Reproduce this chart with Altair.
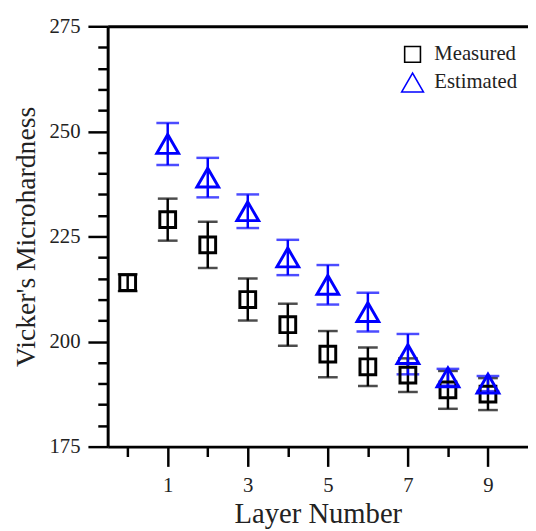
import altair as alt
import pandas as pd

# ---- data ----
layers_m = [0, 1, 2, 3, 4, 5, 6, 7, 8, 9]
measured = [214.0, 229.0, 223.0, 210.0, 204.0, 197.0, 194.0, 192.0, 188.5, 187.5]
measured_err = [2.0, 5.0, 5.5, 5.0, 5.0, 5.5, 4.6, 4.0, 4.5, 3.8]

layers_e = [1, 2, 3, 4, 5, 6, 7, 8, 9]
estimated = [247.0, 239.0, 231.0, 220.0, 213.5, 207.0, 197.0, 191.5, 190.0]
estimated_err = [5.0, 4.7, 4.0, 4.2, 4.7, 4.6, 4.8, 2.0, 1.8]

series_names = ["Measured", "Estimated"]
series_colors = ["#000000", "#0000ff"]
series_shapes = ["square", "triangle-up"]
series_sizes = [256, 484]

y_major = [175, 200, 225, 250, 275]
y_minor = [180, 185, 190, 195, 205, 210, 215, 220, 230, 235, 240, 245, 255, 260, 265, 270]
x_major = [1, 3, 5, 7, 9]
x_minor = [0, 2, 4, 6, 8]

FONT = "Liberation Serif"
TXT = "#222222"

df_m = pd.DataFrame({"layer": layers_m, "value": measured,
                     "lo": [v - e for v, e in zip(measured, measured_err)],
                     "hi": [v + e for v, e in zip(measured, measured_err)],
                     "series": series_names[0]})
df_e = pd.DataFrame({"layer": layers_e, "value": estimated,
                     "lo": [v - e for v, e in zip(estimated, estimated_err)],
                     "hi": [v + e for v, e in zip(estimated, estimated_err)],
                     "series": series_names[1]})
df = pd.concat([df_m, df_e], ignore_index=True)

xscale = alt.Scale(domain=[-0.5, 10], nice=False, zero=False)
yscale = alt.Scale(domain=[175, 275], nice=False, zero=False)

x_major_axis = alt.Axis(values=x_major, title="Layer Number", orient="bottom",
                        tickSize=20, tickWidth=2.5, tickColor="black",
                        domainColor="black", domainWidth=3, grid=False,
                        labelFont=FONT, labelFontSize=21, labelColor=TXT, labelPadding=8,
                        titleFont=FONT, titleFontSize=29, titleFontWeight="normal",
                        titleColor=TXT, titlePadding=5, format="d")
y_major_axis = alt.Axis(values=y_major, title="Vicker's Microhardness", orient="left",
                        tickSize=20, tickWidth=2.5, tickColor="black",
                        domainColor="black", domainWidth=3, grid=False,
                        labelFont=FONT, labelFontSize=21, labelColor=TXT, labelPadding=8,
                        titleFont=FONT, titleFontSize=28, titleFontWeight="normal",
                        titleColor=TXT, titlePadding=9, format="d")
x_minor_axis = alt.Axis(values=x_minor, title="", orient="bottom", tickSize=10,
                        tickWidth=2.5, tickColor="black", labels=False, domain=False,
                        grid=False)
y_minor_axis = alt.Axis(values=y_minor, title="", orient="left", tickSize=10,
                        tickWidth=2.5, tickColor="black", labels=False, domain=False,
                        grid=False)
x_top_axis = alt.Axis(title="", orient="top", ticks=False, labels=False,
                      domain=True, domainColor="black", domainWidth=3, grid=False)

base = alt.Chart(df)

layers = []
# error bars per series
for name, col, cap in zip(series_names, series_colors, [20, 23]):
    sub = base.transform_filter(alt.datum.series == name)
    first = name == series_names[0]
    layers.append(sub.mark_rule(strokeWidth=2.5, color=col).encode(
        x=alt.X("layer:Q", scale=xscale, axis=x_minor_axis if first else None),
        y=alt.Y("lo:Q", scale=yscale, axis=y_minor_axis if first else None),
        y2="hi:Q"))
    layers.append(sub.mark_tick(orient="horizontal", size=cap, thickness=2.5, color=col).encode(
        x=alt.X("layer:Q", scale=xscale, axis=x_top_axis if first else None),
        y=alt.Y("lo:Q", scale=yscale, axis=None)))
    layers.append(sub.mark_tick(orient="horizontal", size=cap, thickness=2.5, color=col).encode(
        x=alt.X("layer:Q", scale=xscale, axis=None),
        y=alt.Y("hi:Q", scale=yscale, axis=None)))

legend = alt.Legend(title=None, orient="none", legendX=297, legendY=18, padding=0,
                    labelFont=FONT, labelFontSize=21, labelColor=TXT,
                    symbolStrokeWidth=1.6, labelOffset=10, rowPadding=4)

points = base.mark_point(filled=False, strokeWidth=3, opacity=1).encode(
    x=alt.X("layer:Q", scale=xscale, axis=x_major_axis),
    y=alt.Y("value:Q", scale=yscale, axis=y_major_axis),
    color=alt.Color("series:N", scale=alt.Scale(domain=series_names, range=series_colors),
                    legend=legend),
    shape=alt.Shape("series:N", scale=alt.Scale(domain=series_names, range=series_shapes),
                    legend=legend),
    size=alt.Size("series:N", scale=alt.Scale(domain=series_names, range=series_sizes),
                  legend=legend),
)
layers.append(points)

chart = alt.layer(*layers).resolve_axis(x="independent", y="independent").properties(
    width=426, height=426,
    autosize=alt.AutoSizeParams(type="none"),
    padding={"left": 101, "top": 15, "right": 0, "bottom": 84},
).configure_view(stroke="#888888", strokeWidth=1).configure(background="white")

chart.save("out.html", embed_options={"renderer": "svg", "actions": False})
